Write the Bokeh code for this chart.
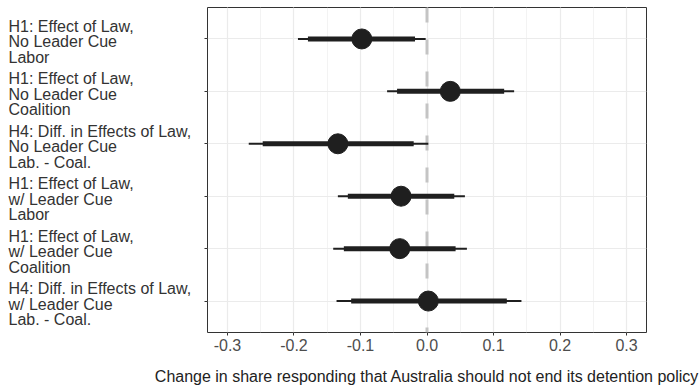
from bokeh.plotting import figure
from bokeh.layouts import row, column
from bokeh.models import Range1d, SingleIntervalTicker, FixedTicker, Span, CustomJSTickFormatter
from bokeh.core.properties import value
from bokeh.embed import file_html
from bokeh.resources import INLINE

labels = [
    "H1: Effect of Law,\nNo Leader Cue\nLabor",
    "H1: Effect of Law,\nNo Leader Cue\nCoalition",
    "H4: Diff. in Effects of Law,\nNo Leader Cue\nLab. - Coal.",
    "H1: Effect of Law,\nw/ Leader Cue\nLabor",
    "H1: Effect of Law,\nw/ Leader Cue\nCoalition",
    "H4: Diff. in Effects of Law,\nw/ Leader Cue\nLab. - Coal.",
]
rows = [1, 2, 3, 4, 5, 6]
est = [-0.098, 0.035, -0.134, -0.039, -0.041, 0.002]
ci90_lo = [-0.179, -0.045, -0.247, -0.119, -0.125, -0.114]
ci90_hi = [-0.018, 0.116, -0.020, 0.041, 0.043, 0.120]
ci95_lo = [-0.194, -0.060, -0.268, -0.134, -0.141, -0.136]
ci95_hi = [-0.002, 0.131, 0.002, 0.057, 0.060, 0.142]
x_title = ["Change in share responding that Australia should not end its detention policy"]
x_ticks_interval = 0.1

FONT = "Liberation Sans"
INK = "#1f1f1f"
W = 699
LABEL_W = 199
TITLE_H = 21
H = 385 - TITLE_H
TOP, BOTTOM = 7, 53 - TITLE_H

# left panel holding the category labels
lp = figure(width=LABEL_W, height=H, output_backend="svg", toolbar_location=None,
            x_range=Range1d(0, LABEL_W), y_range=Range1d(6.6, 0.4),
            x_axis_location=None, y_axis_location=None,
            min_border_left=0, min_border_right=0, min_border_top=TOP,
            min_border_bottom=BOTTOM)
lp.outline_line_color = None
lp.xgrid.visible = False
lp.ygrid.visible = False
lp.text(x=[8] * len(rows), y=rows, text=labels, text_align="left",
        text_baseline="middle", text_font=value(FONT), text_font_size="16px",
        text_line_height=0.91, text_color="#333333", y_offset=3)

p = figure(width=W - LABEL_W, height=H, output_backend="svg", toolbar_location=None,
           x_range=Range1d(-0.33, 0.33), y_range=lp.y_range,
           min_border_left=8, min_border_right=53, min_border_top=TOP,
           min_border_bottom=BOTTOM)
p.background_fill_color = "white"
p.border_fill_color = "white"
p.outline_line_color = "#333333"
p.outline_line_width = 1

p.xaxis.ticker = SingleIntervalTicker(interval=x_ticks_interval, num_minor_ticks=2)
p.xaxis.formatter = CustomJSTickFormatter(code="return tick.toFixed(1);")
p.yaxis.ticker = FixedTicker(ticks=rows)
p.yaxis.major_label_overrides = {r: "" for r in rows}
p.yaxis.major_label_standoff = 0
p.yaxis.major_label_text_font_size = "0px"

for ax in (p.xaxis, p.yaxis):
    ax.axis_line_color = None
    ax.major_tick_in = 0
    ax.major_tick_out = 3
    ax.major_tick_line_color = "#333333"
    ax.minor_tick_line_color = None

p.xaxis.major_label_text_font = FONT
p.xaxis.major_label_text_font_size = "16px"
p.xaxis.major_label_text_color = "#4d4d4d"
p.xaxis.major_label_standoff = 2

p.xgrid.grid_line_color = "#ebebeb"
p.xgrid.grid_line_width = 1.2
p.xgrid.minor_grid_line_color = "#f0f0f0"
p.xgrid.minor_grid_line_width = 0.8
p.ygrid.grid_line_color = "#ebebeb"
p.ygrid.grid_line_width = 1.2

p.add_layout(Span(location=0, dimension="height", line_color="#c4c4c4",
                  line_width=3, line_dash="15 17", level="underlay"))

p.segment(x0=ci95_lo, y0=rows, x1=ci95_hi, y1=rows, line_color=INK, line_width=2)
p.segment(x0=ci90_lo, y0=rows, x1=ci90_hi, y1=rows, line_color=INK, line_width=5)

p.scatter(x=est, y=rows, size=20, fill_color=INK, line_color=INK)

# x-axis title strip, centred under the plotting panel
panel_centre = LABEL_W + 8 + (W - LABEL_W - 8 - 53) / 2
tf = figure(width=W, height=TITLE_H, output_backend="svg", toolbar_location=None,
            x_range=Range1d(0, W), y_range=Range1d(0, TITLE_H),
            x_axis_location=None, y_axis_location=None,
            min_border_left=0, min_border_right=0, min_border_top=0,
            min_border_bottom=0)
tf.outline_line_color = None
tf.xgrid.visible = False
tf.ygrid.visible = False
tf.text(x=[panel_centre], y=[TITLE_H / 2], text=x_title, text_align="center",
        text_baseline="middle", text_font=value(FONT), text_font_size="16px",
        text_color="#222222", y_offset=1)

layout = column(row(lp, p, spacing=0), tf, spacing=0)
open("out.html", "w").write(file_html(layout, INLINE))
